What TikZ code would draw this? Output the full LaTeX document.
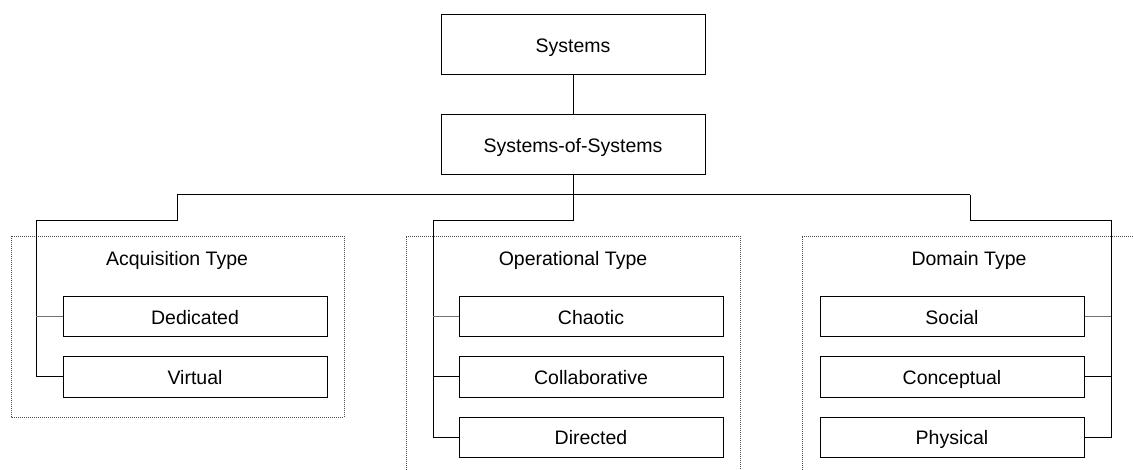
\documentclass[tikz,border=0pt]{standalone}
\usepackage{fontspec}
\setmainfont{Liberation Sans}
\begin{document}
\begin{tikzpicture}[x=1pt,y=-1pt,
  every node/.style={font=\fontsize{19.5}{23}\selectfont, text height=14.5pt, text depth=0pt},
  box/.style={draw, line width=1pt, minimum width=264pt, minimum height=60pt, inner sep=0pt},
  item/.style={draw, line width=1pt, minimum width=264pt, minimum height=40pt, inner sep=0pt},
  group/.style={draw=black!70, line width=0.8pt, dash pattern=on 1pt off 1pt},
  conn/.style={line width=1pt},
  stub/.style={line width=1pt, draw=black!55}]
\useasboundingbox (0,0) rectangle (1133,470);
% dotted group frames
\draw[group] (11,236) rectangle (344,417);
\draw[group] (406,470) -- (406,236) -- (740,236) -- (740,470);
\draw[group] (802,470) -- (802,236) -- (1133,236);
% top nodes
\node[box] (sys) at (573,45) {Systems};
\node[box] (sos) at (573,145) {Systems-of-Systems};
% group labels
\node (acq) at (177,258) {Acquisition Type};
\node (ope) at (573,258) {Operational Type};
\node (dom) at (969,258) {Domain Type};
% items
\node[item] (ded) at (195,317) {Dedicated};
\node[item] (vir) at (195,377) {Virtual};
\node[item] (cha) at (591,317) {Chaotic};
\node[item] (col) at (591,377) {Collaborative};
\node[item] (dir) at (591,437) {Directed};
\node[item] (soc) at (952,317) {Social};
\node[item] (con) at (952,377) {Conceptual};
\node[item] (phy) at (952,437) {Physical};
% coordinates
\coordinate (bus) at (573,195);
\coordinate (bl) at (177,195);
\coordinate (br) at (970,195);
\coordinate (sl) at (36,221);
\coordinate (sm) at (433,221);
\coordinate (sr) at (1111,221);
% connectors
\draw[conn] (sys.south) -- (sos.south |- sos.north);
\draw[conn] (sos.south) -- (bus);
\draw[conn] (bl) -- (br);
\draw[conn] (bl) -- (bl |- sl) -- (sl) -- (sl |- vir.west) -- (vir.west);
\draw[stub] (sl |- ded.west) -- (ded.west);
\draw[conn] (bus) -- (bus |- sm) -- (sm) -- (sm |- dir.west) -- (dir.west);
\draw[stub] (sm |- cha.west) -- (cha.west);
\draw[conn] (sm |- col.west) -- (col.west);
\draw[conn] (br) -- (br |- sr) -- (sr) -- (sr |- phy.east) -- (phy.east);
\draw[stub] (sr |- soc.east) -- (soc.east);
\draw[conn] (sr |- con.east) -- (con.east);
\end{tikzpicture}
\end{document}
